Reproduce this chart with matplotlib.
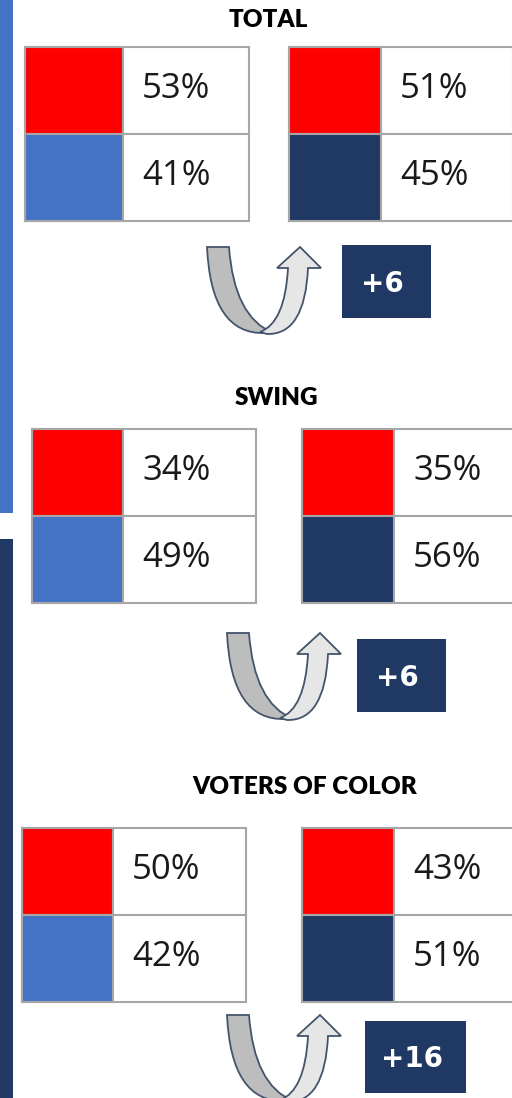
import matplotlib.pyplot as plt
from matplotlib.patches import Rectangle, PathPatch
from matplotlib.path import Path

# data
groups = ["TOTAL", "SWING", "VOTERS OF COLOR"]
before_red = [53, 34, 50]
before_blue = [41, 49, 42]
after_red = [51, 35, 43]
after_blue = [45, 56, 51]
net_shift = [6, 6, 16]

RED = "#FF0000"
BLUE = "#4472C4"
NAVY = "#203864"
GRID = "#A6A6A6"

# layout per section: title (x, y), left table x, right table x, top y,
# color column width (left, right), arrow origin, shift box (x0, y0, x1, y1)
layout = [
    dict(title=(268, 20), lx=25, rx=289, top=47, lsplit=98, rsplit=92,
         arrow=(207, 247), box=(342, 245, 431, 318)),
    dict(title=(276, 398), lx=32, rx=302, top=429, lsplit=91, rsplit=92,
         arrow=(227, 633), box=(357, 639, 446, 712)),
    dict(title=(305, 787), lx=22, rx=302, top=828, lsplit=91, rsplit=92,
         arrow=(227, 1015), box=(365, 1021, 466, 1093)),
]
TABLE_W = 224
ROW_H = 87

fig = plt.figure(figsize=(5.12, 10.98), dpi=100)
ax = fig.add_axes([0, 0, 1, 1])
ax.set_xlim(0, 512)
ax.set_ylim(1098, 0)
ax.axis("off")

# side bars
ax.add_patch(Rectangle((0, 0), 13, 513, color=BLUE, lw=0))
ax.add_patch(Rectangle((0, 539), 13, 1098 - 539, color=NAVY, lw=0))


def table(x0, top, split, red_val, blue_val, blue_color):
    ax.add_patch(Rectangle((x0, top), TABLE_W, 2 * ROW_H, fc="white", ec=GRID, lw=1.5))
    ax.add_patch(Rectangle((x0, top), split, ROW_H, fc=RED, ec=GRID, lw=1.5))
    ax.add_patch(Rectangle((x0, top + ROW_H), split, ROW_H, fc=blue_color, ec=GRID, lw=1.5))
    ax.plot([x0 + split, x0 + TABLE_W], [top + ROW_H, top + ROW_H], color=GRID, lw=1.5)
    for i, v in enumerate([red_val, blue_val]):
        ax.text(x0 + split + 19, top + i * ROW_H + 51, f"{v}%", fontsize=25,
                family="Open Sans", color="#1a1a1a", va="baseline", ha="left")


def u_arrow(ox, oy):
    gray = [(0, 0), (4, 88), (58, 86), (66, 86), (27, 70), (22, 0), (0, 0)]
    gcodes = [Path.MOVETO, Path.CURVE3, Path.CURVE3, Path.LINETO,
              Path.CURVE3, Path.CURVE3, Path.CLOSEPOLY]
    light = [(53, 85), (78, 76), (81, 21), (70, 21), (93, 0), (114, 21),
             (101, 21), (98, 88), (60, 87), (53, 85)]
    lcodes = [Path.MOVETO, Path.CURVE3, Path.CURVE3, Path.LINETO, Path.LINETO,
              Path.LINETO, Path.LINETO, Path.CURVE3, Path.CURVE3, Path.CLOSEPOLY]
    for pts, codes, fc in [(gray, gcodes, "#BDBDBD"), (light, lcodes, "#E7E6E6")]:
        p = Path([(ox + x, oy + y) for x, y in pts], codes)
        ax.add_patch(PathPatch(p, fc=fc, ec="#44546A", lw=1.3, joinstyle="miter"))


for i, g in enumerate(groups):
    L = layout[i]
    ax.text(L["title"][0], L["title"][1], g, fontsize=17.5, fontweight="heavy",
            family="Lato", ha="center", va="center", color="black")
    table(L["lx"], L["top"], L["lsplit"], before_red[i], before_blue[i], BLUE)
    table(L["rx"], L["top"], L["rsplit"], after_red[i], after_blue[i], NAVY)
    u_arrow(*L["arrow"])
    x0, y0, x1, y1 = L["box"]
    ax.add_patch(Rectangle((x0, y0), x1 - x0, y1 - y0, color=NAVY, lw=0))
    ax.text((x0 + x1) / 2 - 4, (y0 + y1) / 2 + 2, f"+{net_shift[i]}", fontsize=20,
            fontweight="bold", color="white", ha="center", va="center")

fig.savefig("out.png", dpi=100)
